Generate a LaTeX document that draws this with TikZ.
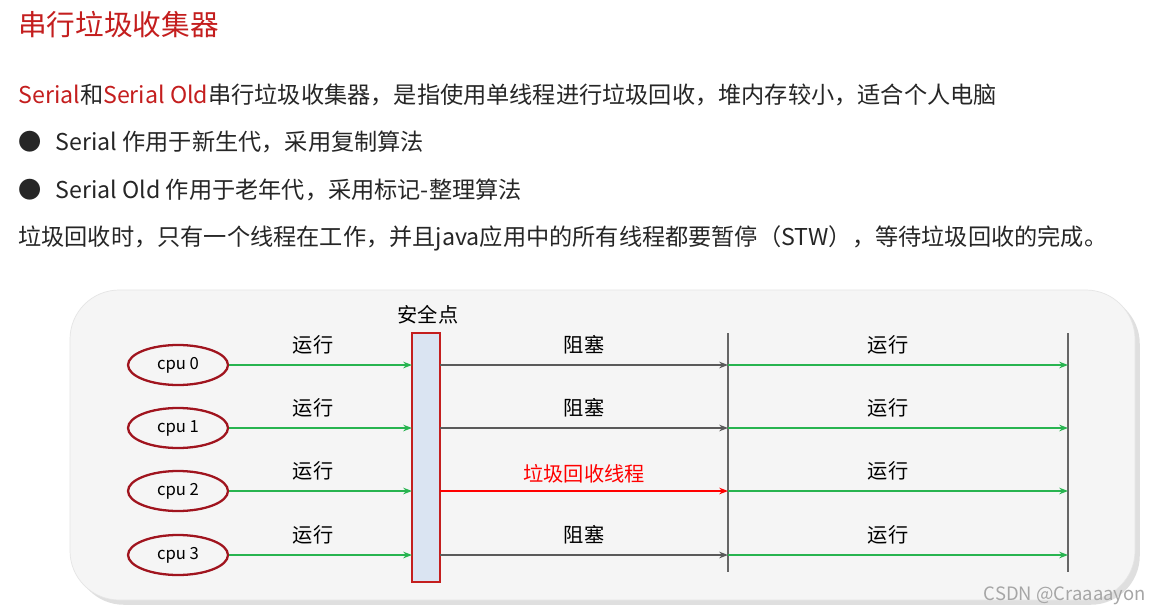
\documentclass[tikz,border=0pt]{standalone}
\usepackage{fontspec}
\setmainfont{Noto Sans CJK SC}
\usetikzlibrary{arrows.meta,shapes.geometric,shadows,calc}
\definecolor{tred}{RGB}{196,30,30}
\definecolor{cpured}{RGB}{160,20,30}
\definecolor{grn}{RGB}{40,180,80}
\definecolor{gry}{RGB}{90,90,90}
\definecolor{spfill}{RGB}{218,228,242}
\tikzset{
 txt/.style={anchor=west,font=\fontsize{13.2}{15}\selectfont,text=black!85,inner sep=0},
 cpu/.style={ellipse,draw=cpured,line width=1.3pt,minimum width=2cm,minimum height=0.8cm,font=\fontsize{9.5}{11}\selectfont},
 lab/.style={font=\fontsize{11.5}{13}\selectfont,inner sep=0},
 ga/.style={draw=grn,line width=1.1pt,-{Stealth[length=5pt]}},
 ya/.style={draw=gry,line width=1.1pt,-{Stealth[length=5pt]}},
 ra/.style={draw=red,line width=1.1pt,-{Stealth[length=5pt]}},
}
\begin{document}
\begin{tikzpicture}[x=0.02cm,y=-0.02cm]
\useasboundingbox[fill=white] (0,0) rectangle (1156,615);
\node[anchor=west,text=tred,font=\fontsize{16.3}{19}\selectfont,inner sep=0] (title) at (18,25) {串行垃圾收集器};
\node[txt] (l1) at (18,95) {\textcolor{tred}{Serial}和\textcolor{tred}{Serial Old}串行垃圾收集器，是指使用单线程进行垃圾回收，堆内存较小，适合个人电脑};
\node[txt] (l2) at (18,142) {●\hspace{8pt}Serial 作用于新生代，采用复制算法};
\node[txt] (l3) at (18,190) {●\hspace{8pt}Serial Old 作用于老年代，采用标记-整理算法};
\node[txt] (l4) at (18,238) {垃圾回收时，只有一个线程在工作，并且java应用中的所有线程都要暂停（STW），等待垃圾回收的完成。};
\draw[rounded corners=28,fill=gray!8,draw=gray!20,drop shadow={opacity=0.25}] (70,290) rectangle (1135,600);
\node[draw=tred,line width=1.3pt,fill=spfill,minimum width=0.56cm,minimum height=4.98cm,inner sep=0] (sp) at (426,457.5) {};
\node[lab] (spl) at (428,315) {安全点};
\draw[gray!80!black,line width=1pt] (728,333) -- (728,572);
\draw[gray!80!black,line width=1pt] (1068,333) -- (1068,572);
\foreach \i/\y in {0/365,1/428,2/491,3/555}{
 \node[cpu] (c\i) at (178,\y) {cpu \i};
 \coordinate (a\i) at (412,\y);
 \coordinate (b\i) at (440,\y);
 \coordinate (m\i) at (728,\y);
 \coordinate (e\i) at (1068,\y);
 \draw[ga] (c\i) -- (a\i);
 \draw[ga] (m\i) -- (e\i);
 \node[lab] (r\i) at (313,\y-20) {运行};
 \node[lab] (s\i) at (888,\y-20) {运行};
}
\foreach \i in {0,1,3}{
 \draw[ya] (b\i) -- (m\i);
 \node[lab] (z\i) at ($(b\i)!0.5!(m\i)+(0,-20)$) {阻塞};
}
\draw[ra] (b2) -- (m2);
\node[lab,text=red] (gc) at (584,474) {垃圾回收线程};
\node[anchor=east,text=gray!70,font=\fontsize{10.5}{12}\selectfont] (wm) at (1152,596) {CSDN @Craaaayon};
\end{tikzpicture}
\end{document}
